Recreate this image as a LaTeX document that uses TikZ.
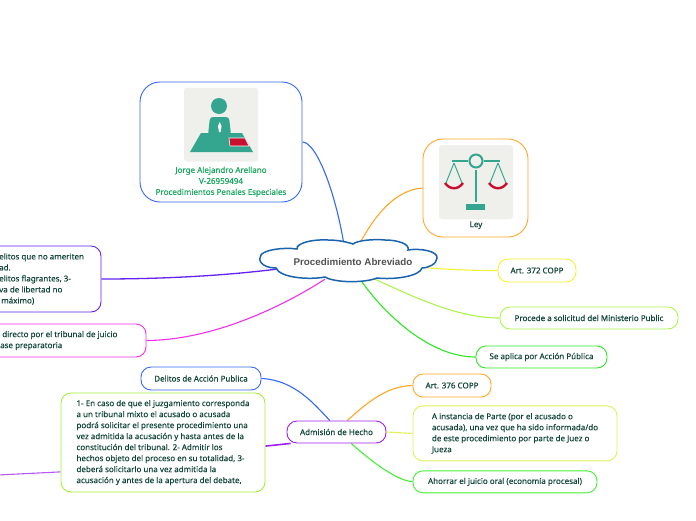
\documentclass[tikz,border=0pt]{standalone}
\usepackage{fontspec}
\setmainfont[FakeBold=0.25]{Noto Sans}
\newfontfamily\rootfont{Liberation Sans}
\newcommand{\leaffont}{\bfseries\fontsize{8}{11}\selectfont}
\usepackage{tikz}
\usetikzlibrary{positioning,backgrounds}
\definecolor{inktext}{HTML}{12463A}
\definecolor{cloudrule}{HTML}{1B64AD}
\definecolor{bluerule}{HTML}{3568F5}
\definecolor{orangerule}{HTML}{FFA726}
\definecolor{yellowrule}{HTML}{F2F230}
\definecolor{limerule}{HTML}{ACF54A}
\definecolor{greenrule}{HTML}{2CE822}
\definecolor{pinkrule}{HTML}{F030E8}
\definecolor{violetrule}{HTML}{6422F0}
\definecolor{purplerule}{HTML}{A020F0}
\definecolor{leafgreen}{HTML}{A2F03C}
\definecolor{paleyellow}{HTML}{DFF25A}
\definecolor{brightgreen}{HTML}{44F034}
\definecolor{tilefill}{HTML}{EFEFEC}
\definecolor{tealicon}{HTML}{34A58E}
\definecolor{redicon}{HTML}{C8102E}
\definecolor{captiongreen}{HTML}{1AA860}
\tikzset{
  leaf/.style={rectangle,rounded corners=10pt,draw,line width=0.9pt,fill=white,text=inktext,align=left,inner sep=0pt,font=\leaffont},
  bigbox/.style={leaf,rounded corners=20pt},
  tile/.style={rectangle,rounded corners=3pt,fill=tilefill,minimum width=74pt,minimum height=74pt,inner sep=0pt},
  cliptext/.style={anchor=west,text=inktext,align=left,inner sep=0pt,font=\leaffont},
  edge/.style={line width=1.1pt}
}
\begin{document}
\begin{tikzpicture}[x=1pt,y=-1pt]
  \useasboundingbox (0,0) rectangle (696,520);
  \clip (0,0) rectangle (696,520);
  % centre
  \draw[cloudrule,line width=1.5pt,fill=white]
    (276,268) .. controls (262,268) and (257,260) .. (261,255)
    .. controls (264,250) and (283,247) .. (297,249)
    .. controls (296,243) and (313,239) .. (328,240)
    .. controls (338,240) and (347,242) .. (353,244)
    .. controls (358,240) and (375,239) .. (385,240)
    .. controls (398,240) and (410,244) .. (408,250)
    .. controls (420,248) and (438,251) .. (437,258)
    .. controls (437,264) and (428,268) .. (422,268)
    .. controls (420,276) and (395,280) .. (377,278)
    .. controls (365,283) and (335,283) .. (325,277)
    .. controls (310,280) and (280,278) .. (276,268) -- cycle;
  \node[minimum width=150pt,minimum height=34pt,inner sep=0pt,text=black!68,font=\rootfont\bfseries\fontsize{9.8}{11}\selectfont] (root) at (353,262) {Procedimiento Abreviado};
  % upper boxes
  \node[bigbox,draw=bluerule,minimum width=162pt,minimum height=120pt] (author) at (221,142) {};
  \node[tile] (authortile) at (221,124.5) {};
  \node[above=-1pt of author.south,anchor=south,align=center,text=captiongreen,inner sep=6.5pt,font=\leaffont] (authortext) {Jorge Alejandro Arellano\\V-26959494\\Procedimientos Penales Especiales};
  \node[bigbox,draw=orangerule,minimum width=105pt,minimum height=98pt] (ley) at (475.5,188) {};
  \node[tile] (leytile) at (476,182) {};
  \node[below=2pt of leytile,text=inktext,inner sep=0pt,font=\leaffont] (leytext) {Ley};
  % person icon
  \fill[tealicon] (219,106) circle (8);
  \fill[tealicon,rounded corners=3pt] (208,135) -- (210,117) -- (229,117) -- (231,135) -- cycle;
  \fill[tealicon] (190,152) -- (201,133) -- (242,133) -- (253,152) -- cycle;
  \fill[white] (219.8,122) -- (221.5,126) -- (220.6,132) -- (219,132) -- (218,126) -- cycle;
  \draw[white,fill=redicon,line width=0.6pt] (229,138) -- (245,138) -- (249,146) -- (230,146) -- cycle;
  % scale icon
  \draw[tealicon,line width=2pt] (476,161) circle (6.5);
  \draw[tealicon,line width=2pt] (452,161) -- (468,161) (484,161) -- (500,161);
  \draw[tealicon,line width=2pt] (476,170) -- (476,202);
  \fill[tealicon] (466,204) rectangle (485,210);
  \draw[tealicon,line width=1pt] (454,163) -- (446,183) (454,163) -- (462,183) (498,163) -- (490,183) (498,163) -- (506,183);
  \draw[redicon,line width=2.4pt] (445,183) .. controls (450,190) and (458,190) .. (463,183);
  \draw[redicon,line width=2.4pt] (489,183) .. controls (494,190) and (502,190) .. (507,183);
  % right column
  \node[leaf,draw=yellowrule,minimum width=78pt,minimum height=23pt] (art372) at (537,270.5) {Art. 372 COPP};
  \node[leaf,draw=limerule,minimum width=178pt,minimum height=22pt] (procede) at (589,318) {Procede a solicitud del Ministerio Public};
  \node[leaf,draw=greenrule,minimum width=131pt,minimum height=22pt] (accion) at (541.5,357) {Se aplica por Acción Pública};
  \node[leaf,draw=orangerule,minimum width=78pt,minimum height=23pt] (art376) at (452,385.5) {Art. 376 COPP};
  \node[leaf,draw=paleyellow,minimum width=204pt,minimum height=55pt,below=8pt of art376.south west,anchor=north west] (instancia) {A instancia de Parte (por el acusado o\\acusada), una vez que ha sido informada/do\\de este procedimiento por parte de Juez o\\Jueza};
  \node[leaf,draw=brightgreen,minimum width=184pt,minimum height=22pt,below=9pt of instancia.south west,anchor=north west] (ahorrar) {Ahorrar el juicio oral (economía procesal)};
  % left column
  \node[leaf,draw=violetrule,minimum width=160pt,minimum height=66pt] (requisitos) at (21,279) {};
  \node[cliptext] (requisitostext) at (-1,279) {elitos que no ameriten\\ad.\\elitos flagrantes, 3-\\va de libertad no\\ \ máximo)};
  \node[leaf,draw=pinkrule,minimum width=206pt,minimum height=33pt] (juicio) at (43,340.5) {};
  \node[cliptext] (juiciotext) at (0,340.5) {\ directo por el tribunal de juicio\\ase preparatoria};
  \node[leaf,draw=bluerule,minimum width=120pt,minimum height=23pt] (publica) at (201,378.5) {Delitos de Acción Publica};
  \node[leaf,draw=purplerule,minimum width=99pt,minimum height=22pt] (admision) at (336.5,432) {Admisión de Hecho};
  \node[leaf,draw=leafgreen,minimum width=204pt,minimum height=99pt] (admitir) at (163,442.5) {1- En caso de que el juzgamiento corresponda\\a un tribunal mixto el acusado o acusada\\podrá solicitar el presente procedimiento una\\vez admitida la acusación y hasta antes de la\\constitución del tribunal. 2- Admitir los\\hechos objeto del proceso en su totalidad, 3-\\deberá solicitarlo una vez admitida la\\acusación y antes de la apertura del debate,};
  \coordinate (offpage) at (-2,475);
  % connectors
  \begin{scope}[on background layer]
    \draw[edge,bluerule] (author.east) .. controls (316,142) and (335,190) .. (root.north -| 344,0);
    \draw[edge,orangerule] (ley.west) .. controls (395,190) and (375,215) .. (root.north -| 359,0);
    \draw[edge,yellowrule] (root.south east |- 0,268) .. controls (460,270) and (475,270.5) .. (art372.west);
    \draw[edge,limerule] (root.south -| 375,0) .. controls (420,300) and (460,318) .. (procede.west);
    \draw[edge,greenrule] (root.south -| 360,0) .. controls (385,315) and (430,357) .. (accion.west);
    \draw[edge,pinkrule] (juicio.east) .. controls (215,340) and (285,305) .. (root.south -| 325,0);
    \draw[edge,violetrule,line width=1.3pt] (requisitos.east) .. controls (170,279) and (230,275) .. (root.south west |- 0,269);
    \draw[edge,bluerule] (publica.east) .. controls (295,380) and (315,405) .. (admision.120);
    \draw[edge,orangerule] (admision.47) .. controls (365,405) and (385,386) .. (art376.west);
    \draw[edge,paleyellow] (admision.east) -- (instancia.west);
    \draw[edge,brightgreen] (admision.-38) .. controls (370,460) and (395,480) .. (ahorrar.west);
    \draw[edge,purplerule,line width=1.6pt] (admitir.-2.5) -- (admision.194.2);
    \draw[edge,purplerule!75] (admitir.196.4) -- (offpage);
  \end{scope}
\end{tikzpicture}
\end{document}
